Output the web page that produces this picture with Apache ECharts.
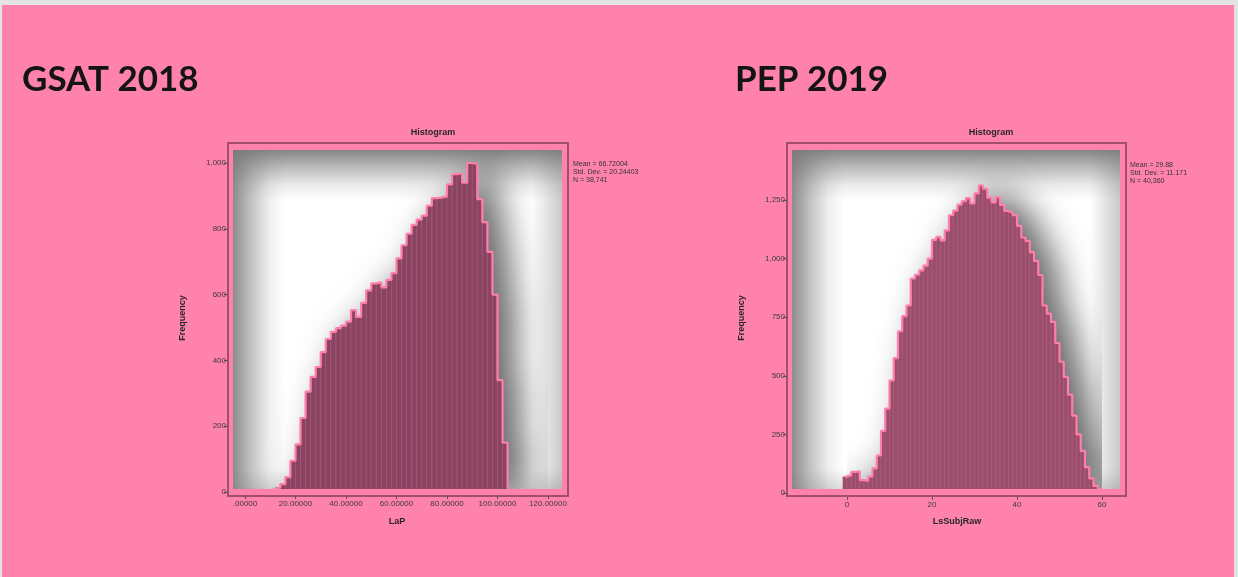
<!DOCTYPE html>
<html>
<head>
<meta charset="utf-8">
<script src="https://cdn.jsdelivr.net/npm/echarts@6/dist/echarts.min.js"></script>
<style>
  html, body { margin: 0; padding: 0; width: 1238px; height: 577px; overflow: hidden; background: #e3e3e3; }
  #slide { position: absolute; left: 2px; top: 5px; width: 1232px; height: 572px; background: #ff82ad; }
  #chart { position: absolute; left: 0; top: 0; width: 1238px; height: 577px; }
</style>
</head>
<body>
<div id="slide"></div>
<div id="chart"></div>
<script>
// ---- GSAT 2018 : LaP (bins of width 2) ----
const gsatBinStarts = [8, 10, 12, 14, 16, 18, 20, 22, 24, 26, 28, 30, 32, 34, 36, 38, 40, 42, 44, 46, 48, 50, 52, 54,
                       56, 58, 60, 62, 64, 66, 68, 70, 72, 74, 76, 78, 80, 82, 84, 86, 88, 90, 92, 94, 96, 98, 100, 102];
const gsatBinWidth = 2;
const gsatCounts = [5, 8, 14, 24, 45, 95, 145, 225, 305, 350, 380, 425, 465, 487, 498, 506, 518, 553, 532, 575, 613, 634, 637, 622,
                    645, 665, 710, 750, 785, 812, 828, 840, 870, 893, 895, 898, 935, 966, 968, 940, 1000, 997, 890, 820, 730, 600, 340, 150];
const gsatXTicks = { min: 0, max: 120, interval: 20 };
const gsatYTicks = { min: 0, max: 1000, interval: 200 };
const gsatStats = ['Mean = 66.72004', 'Std. Dev. = 20.24403', 'N = 38,741'];

// ---- PEP 2019 : LsSubjRaw (bins of width 1) ----
const pepBinStarts = [-1, 0, 1, 2, 3, 4, 5, 6, 7, 8, 9, 10, 11, 12, 13, 14, 15, 16, 17, 18, 19, 20, 21, 22, 23, 24, 25, 26, 27, 28, 29,
                      30, 31, 32, 33, 34, 35, 36, 37, 38, 39, 40, 41, 42, 43, 44, 45, 46, 47, 48, 49, 50, 51, 52, 53, 54, 55, 56, 57, 58, 59];
const pepBinWidth = 1;
const pepCounts = [70, 75, 90, 92, 55, 52, 70, 105, 160, 265, 360, 480, 575, 690, 755, 800, 915, 931, 950, 970, 1000, 1080, 1093, 1078, 1120,
                   1185, 1205, 1230, 1245, 1258, 1235, 1278, 1312, 1298, 1260, 1240, 1262, 1229, 1203, 1196, 1185, 1140, 1090, 1075, 1028, 990,
                   930, 800, 765, 730, 640, 560, 495, 420, 330, 250, 180, 110, 62, 30, 15];
const pepXTicks = { min: 0, max: 60, interval: 20 };
const pepYTicks = { min: 0, max: 1250, interval: 250 };
const pepStats = ['Mean = 29.88', 'Std. Dev. = 11.171', 'N = 40,360'];

const FONT = '"Liberation Sans", Arial, sans-serif';
const PINK = '#ff82ad';
const OUTLINE = '#ff7eab';
const FRAME = '#a04d6e';

// one histogram panel: pixel frame, plot grid and styling
const panels = [
  {
    title: 'GSAT 2018', titleX: 22, xName: 'LaP',
    starts: gsatBinStarts, width: gsatBinWidth, counts: gsatCounts, xTicks: gsatXTicks, yTicks: gsatYTicks, stats: gsatStats,
    xFmt: v => v === 0 ? '.00000' : v.toFixed(5),
    grid: { left: 245, top: 163, width: 303, height: 329 },
    frame: { x: 228, y: 143, w: 340, h: 353 },
    inner: { x: 233, y: 150, w: 329, h: 339 },
    yOffset: 17, histTitleX: 433, statsX: 573, statsY: 164, nameX: 397, freqX: 183,
    bar: '#8a4461'
  },
  {
    title: 'PEP 2019', titleX: 735, xName: 'LsSubjRaw',
    starts: pepBinStarts, width: pepBinWidth, counts: pepCounts, xTicks: pepXTicks, yTicks: pepYTicks, stats: pepStats,
    xFmt: v => String(v),
    grid: { left: 847, top: 200, width: 255, height: 293 },
    frame: { x: 787, y: 143, w: 339, h: 353 },
    inner: { x: 792, y: 150, w: 328, h: 339 },
    yOffset: 60, histTitleX: 991, statsX: 1130, statsY: 165, nameX: 957, freqX: 742,
    bar: '#9b4d6c'
  }
];

function binRows(p) {
  return p.starts.map((s, i) => [s, s + p.width, p.counts[i]]);
}
function stepRows(p) {
  const pts = [[p.starts[0], 0]];
  p.starts.forEach((s, i) => pts.push([s, p.counts[i]]));
  const end = p.starts[p.starts.length - 1] + p.width;
  pts.push([end, p.counts[p.counts.length - 1]]);
  pts.push([end, 0]);
  return pts;
}
function renderBin(color) {
  return function (params, api) {
    const top = api.coord([api.value(0), api.value(2)]);
    const base = api.coord([api.value(1), 0]);
    return {
      type: 'rect',
      shape: { x: top[0], y: top[1], width: base[0] - top[0], height: base[1] - top[1] },
      style: { fill: color, stroke: 'rgba(200,120,150,0.45)', lineWidth: 0.6 }
    };
  };
}
const thousands = v => v.toLocaleString('en-US');
const hiddenLine = { show: true, onZero: false, lineStyle: { color: 'rgba(0,0,0,0)', width: 1 } };

const grids = [], xAxes = [], yAxes = [], series = [], graphics = [];

panels.forEach((p, i) => {
  grids.push(Object.assign({ outerBoundsMode: 'none', containLabel: false }, p.grid));

  xAxes.push({
    gridIndex: i, type: 'value', position: 'bottom', min: p.xTicks.min, max: p.xTicks.max, interval: p.xTicks.interval,
    offset: 4, z: 60,
    axisLine: hiddenLine,
    axisTick: { show: true, inside: false, length: 3, lineStyle: { color: '#555', width: 1 } },
    splitLine: { show: false },
    axisLabel: { show: true, showMinLabel: true, showMaxLabel: true, margin: 4, fontSize: 8, color: '#3a3a3a',
                 fontFamily: FONT, formatter: p.xFmt }
  });
  yAxes.push({
    gridIndex: i, type: 'value', position: 'left', min: p.yTicks.min, max: p.yTicks.max, interval: p.yTicks.interval,
    offset: p.yOffset, z: 60,
    axisLine: hiddenLine,
    axisTick: { show: true, inside: false, length: 4, lineStyle: { color: '#555', width: 1 } },
    splitLine: { show: false },
    axisLabel: { show: true, showMinLabel: true, showMaxLabel: true, margin: 2, fontSize: 8, color: '#3a3a3a',
                 fontFamily: FONT, formatter: thousands }
  });

  const steps = stepRows(p);
  // soft drop shadow cast by the histogram silhouette
  series.push({
    type: 'line', xAxisIndex: i, yAxisIndex: i, data: steps, step: 'end', symbol: 'none', silent: true,
    clip: false, z: 1,
    lineStyle: { width: 0, opacity: 0 },
    areaStyle: { color: p.bar, opacity: 1, shadowBlur: 34, shadowColor: 'rgba(0,0,0,0.6)', shadowOffsetX: 18 }
  });
  // histogram bins
  series.push({
    type: 'custom', xAxisIndex: i, yAxisIndex: i, data: binRows(p), encode: { x: [0, 1], y: 2 },
    renderItem: renderBin(p.bar), clip: false, z: 2
  });
  // pink outline round the bins
  series.push({
    type: 'line', xAxisIndex: i, yAxisIndex: i, data: steps, step: 'end', symbol: 'none', silent: true,
    clip: false, z: 3,
    lineStyle: { color: OUTLINE, width: 2.2 }
  });

  // plot background: white centre shaded towards grey at the edges
  const r = p.inner;
  const grey = a => 'rgba(120,120,120,' + a + ')';
  graphics.push({ type: 'rect', z: -10, shape: { x: r.x, y: r.y, width: r.w, height: r.h }, style: { fill: '#ffffff' } });
  graphics.push({ type: 'rect', z: -9, shape: { x: r.x, y: r.y, width: r.w, height: 50 },
    style: { fill: { type: 'linear', x: 0, y: 0, x2: 0, y2: 1, colorStops: [
      { offset: 0, color: grey(0.9) }, { offset: 0.35, color: grey(0.5) }, { offset: 0.7, color: grey(0.15) }, { offset: 1, color: grey(0) }] } } });
  graphics.push({ type: 'rect', z: -9, shape: { x: r.x, y: r.y, width: 52, height: r.h },
    style: { fill: { type: 'linear', x: 0, y: 0, x2: 1, y2: 0, colorStops: [
      { offset: 0, color: grey(0.85) }, { offset: 0.35, color: grey(0.45) }, { offset: 0.7, color: grey(0.12) }, { offset: 1, color: grey(0) }] } } });
  graphics.push({ type: 'rect', z: -9, shape: { x: r.x + r.w - 30, y: r.y, width: 30, height: r.h },
    style: { fill: { type: 'linear', x: 0, y: 0, x2: 1, y2: 0, colorStops: [
      { offset: 0, color: grey(0) }, { offset: 1, color: grey(0.4) }] } } });
  graphics.push({ type: 'rect', z: -9, shape: { x: r.x, y: r.y + r.h - 20, width: r.w, height: 20 },
    style: { fill: { type: 'linear', x: 0, y: 0, x2: 0, y2: 1, colorStops: [
      { offset: 0, color: grey(0) }, { offset: 1, color: grey(0.25) }] } } });

  // pink surround hiding anything that spills past the plot area
  const m = 46;
  [[r.x - m, r.y - m, r.w + 2 * m, m], [r.x - m, r.y + r.h, r.w + 2 * m, m],
   [r.x - m, r.y, m, r.h], [r.x + r.w, r.y, m, r.h]].forEach(b => {
    graphics.push({ type: 'rect', z: 50, shape: { x: b[0], y: b[1], width: b[2], height: b[3] }, style: { fill: PINK } });
  });
  const f = p.frame;
  graphics.push({ type: 'rect', z: 55, shape: { x: f.x, y: f.y, width: f.w, height: f.h },
    style: { fill: 'none', stroke: FRAME, lineWidth: 2 } });

  // texts
  graphics.push({ type: 'text', z: 60, x: p.titleX, y: 80,
    style: { text: p.title, fill: '#141414', font: 'bold 35px Lato, "Open Sans", sans-serif', textVerticalAlign: 'middle' } });
  graphics.push({ type: 'text', z: 60, x: p.histTitleX, y: 133,
    style: { text: 'Histogram', fill: '#262626', font: 'bold 9px ' + FONT, textAlign: 'center', textVerticalAlign: 'middle' } });
  p.stats.forEach((line, k) => {
    graphics.push({ type: 'text', z: 60, x: p.statsX, y: p.statsY + k * 8,
      style: { text: line, fill: '#333', font: '7px ' + FONT, textVerticalAlign: 'middle' } });
  });
  graphics.push({ type: 'text', z: 60, x: p.nameX, y: 522,
    style: { text: p.xName, fill: '#262626', font: 'bold 9px ' + FONT, textAlign: 'center', textVerticalAlign: 'middle' } });
  graphics.push({ type: 'text', z: 60, x: p.freqX, y: 318, rotation: Math.PI / 2,
    style: { text: 'Frequency', fill: '#262626', font: 'bold 9px ' + FONT, textAlign: 'center', textVerticalAlign: 'middle' } });
});

const chart = echarts.init(document.getElementById('chart'), null, { renderer: 'canvas', width: 1238, height: 577 });
chart.setOption({
  animation: false,
  backgroundColor: 'transparent',
  grid: grids,
  xAxis: xAxes,
  yAxis: yAxes,
  series: series,
  graphic: { elements: graphics }
});
</script>
</body>
</html>
